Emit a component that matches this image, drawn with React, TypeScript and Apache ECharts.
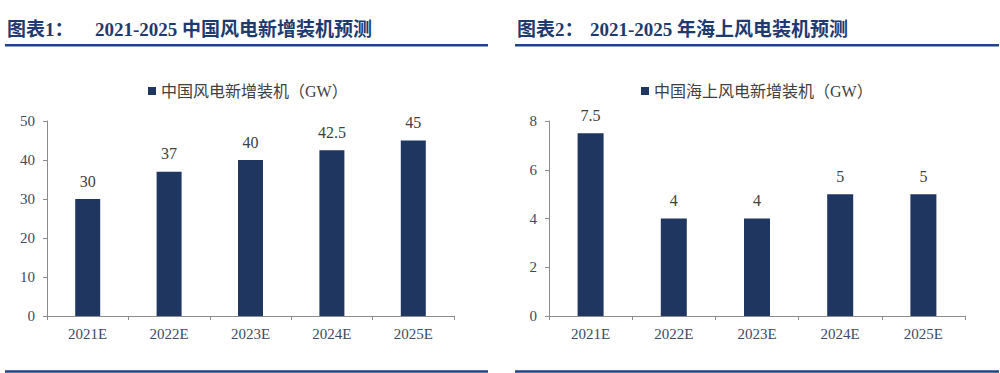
import React, { useEffect, useRef } from "react";
import * as echarts from "echarts";

const categories = ["2021E", "2022E", "2023E", "2024E", "2025E"];
const totalValues = [30, 37, 40, 42.5, 45];
const offshoreValues = [7.5, 4, 4, 5, 5];
const totalName = "中国风电新增装机（GW）";
const offshoreName = "中国海上风电新增装机（GW）";
const title1Prefix = "图表1：";
const title1Text = "2021-2025 中国风电新增装机预测";
const title2Prefix = "图表2：";
const title2Text = "2021-2025 年海上风电装机预测";

const BAR = "#1f3760";
const TITLE = "#1f3a6e";
const RULE = "#1f4488";
const AXIS = "#8c8c8c";
const LABEL = "#3c4a66";
const FONT = "'Liberation Serif', 'Noto Sans CJK SC', serif";

export default function App() {
  const ref = useRef<HTMLDivElement>(null);
  useEffect(() => {
    if (!ref.current) return;
    const chart = echarts.init(ref.current, null, { renderer: "svg" });
    const axisCommon = {
      axisLine: { show: true, lineStyle: { color: AXIS, width: 1 } },
      splitLine: { show: false },
    };
    const yAxisBase = (gridIndex: number, max: number, interval: number) => ({
      type: "value",
      gridIndex,
      min: 0,
      max,
      interval,
      ...axisCommon,
      axisTick: { show: true, length: 4, lineStyle: { color: AXIS } },
      axisLabel: { color: LABEL, fontSize: 15, fontFamily: FONT, margin: 12 },
    });
    const xAxisBase = (gridIndex: number) => ({
      type: "category",
      gridIndex,
      data: categories,
      ...axisCommon,
      axisTick: { show: true, length: 4, alignWithLabel: false, lineStyle: { color: AXIS } },
      axisLabel: { color: LABEL, fontSize: 15, fontFamily: FONT, margin: 10 },
    });
    const legendBase = (name: string, left: number) => ({
      data: [name],
      left,
      top: 78,
      icon: "rect",
      itemWidth: 8,
      itemHeight: 8,
      textStyle: { color: "#404040", fontSize: 16, fontFamily: FONT },
      selectedMode: false,
    });
    const titleText = (x: number, text: string) => ({
      type: "text",
      left: x,
      top: 20,
      style: {
        text,
        fill: TITLE,
        font: `bold 19px ${FONT}`,
      },
    });
    const rule = (x1: number, x2: number, y: number, w: number) => ({
      type: "line",
      shape: { x1, y1: y, x2, y2: y },
      style: { stroke: RULE, lineWidth: w },
    });
    const barLabel = {
      show: true,
      position: "top",
      distance: 10,
      color: "#404040",
      fontSize: 16,
      fontFamily: FONT,
    };
    chart.setOption({
      animation: false,
      grid: [
        { left: 47, right: 546, top: 121, bottom: 57 },
        { left: 549, right: 35, top: 121, bottom: 57 },
      ],
      legend: [legendBase(totalName, 143), legendBase(offshoreName, 636)],
      xAxis: [xAxisBase(0), xAxisBase(1)],
      yAxis: [yAxisBase(0, 50, 10), yAxisBase(1, 8, 2)],
      series: [
        {
          type: "bar",
          name: totalName,
          xAxisIndex: 0,
          yAxisIndex: 0,
          data: totalValues,
          barWidth: 25,
          itemStyle: { color: BAR },
          label: barLabel,
        },
        {
          type: "bar",
          name: offshoreName,
          xAxisIndex: 1,
          yAxisIndex: 1,
          data: offshoreValues,
          barWidth: 26,
          itemStyle: { color: BAR },
          label: barLabel,
        },
      ],
      graphic: [
        titleText(7, title1Prefix),
        titleText(95, title1Text),
        titleText(517, title2Prefix),
        titleText(590, title2Text),
        rule(5, 488, 45.3, 2.5),
        rule(515, 999, 45.3, 2.5),
        rule(5, 488, 371.5, 2.5),
        rule(515, 999, 371.5, 2.5),
      ],
    });
    return () => chart.dispose();
  }, []);
  return (
    <div
      ref={ref}
      style={{ position: "absolute", left: 0, top: 0, width: 1000, height: 373, background: "#fff" }}
    />
  );
}
